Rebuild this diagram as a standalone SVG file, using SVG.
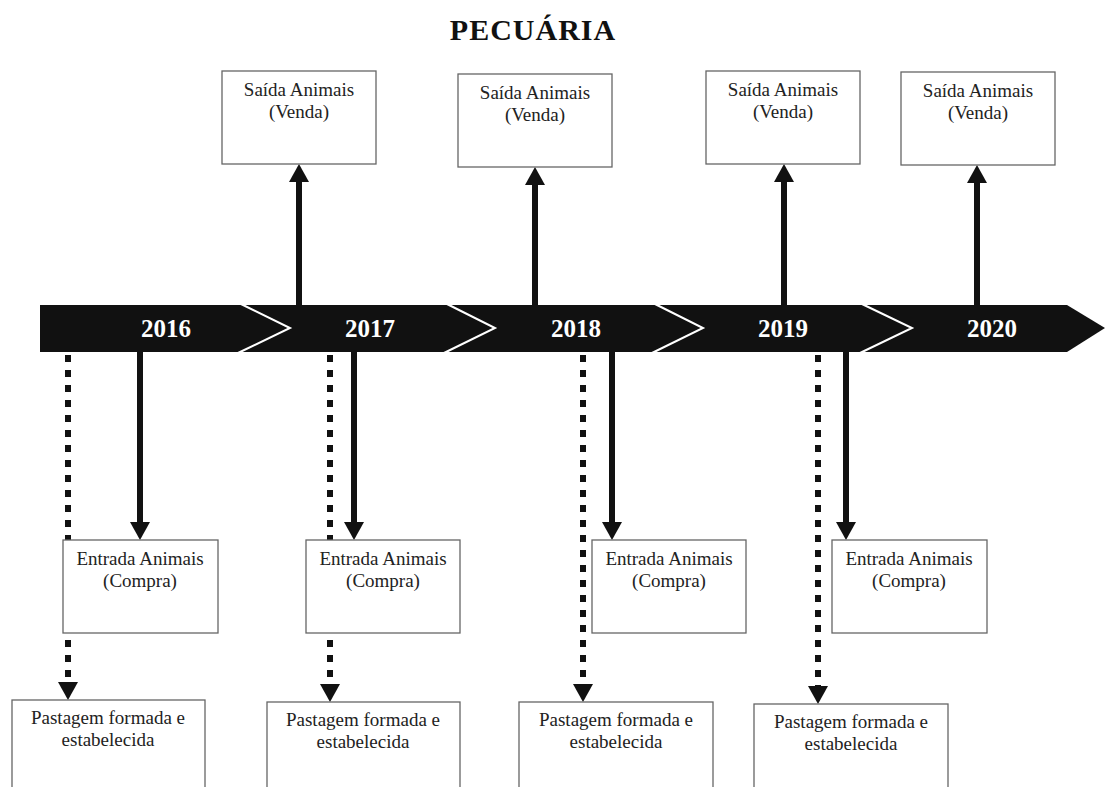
<svg xmlns="http://www.w3.org/2000/svg" width="1105" height="787" viewBox="0 0 1105 787">
<style>
.t{font-family:"Liberation Serif","Times New Roman",serif;font-size:19px;fill:#222;text-anchor:middle}
.yr{font-family:"Liberation Serif","Times New Roman",serif;font-size:25px;font-weight:bold;fill:#fff;text-anchor:middle}
.ttl{font-family:"Liberation Serif","Times New Roman",serif;font-size:30px;font-weight:bold;fill:#111;text-anchor:middle;letter-spacing:1px}
.box{fill:#fff;stroke:#666;stroke-width:1.3}
.sol{stroke:#111;stroke-width:6;fill:none}
.dot{stroke:#111;stroke-width:6;fill:none;stroke-dasharray:7 8}
.head{fill:#111}
.chev{fill:none;stroke:#fff;stroke-width:2}
</style>
<rect width="1105" height="787" fill="#fff"/>
<text class="ttl" x="533" y="40">PECUÁRIA</text>
<g id="timeline">
<polygon points="40,305 1067,305 1105,328 1067,352 40,352" fill="#111"/>
<polyline class="chev" points="241,304 290,328 238,353"/>
<polyline class="chev" points="447,304 495,328 444,353"/>
<polyline class="chev" points="655,304 703,328 652,353"/>
<polyline class="chev" points="862,304 912,328 860,353"/>
<text class="yr" x="166" y="337">2016</text>
<text class="yr" x="370" y="337">2017</text>
<text class="yr" x="576" y="337">2018</text>
<text class="yr" x="783" y="337">2019</text>
<text class="yr" x="992" y="337">2020</text>
</g>
<g id="connectors">
<line class="sol" x1="299" y1="305" x2="299" y2="180"/><polygon class="head" points="299,164 289,182 309,182"/>
<line class="sol" x1="535" y1="305" x2="535" y2="183"/><polygon class="head" points="535,167 525,185 545,185"/>
<line class="sol" x1="784" y1="305" x2="784" y2="180"/><polygon class="head" points="784,164 774,182 794,182"/>
<line class="sol" x1="977" y1="305" x2="977" y2="181"/><polygon class="head" points="977,165 967,183 987,183"/>
<line class="sol" x1="140" y1="352" x2="140" y2="524"/><polygon class="head" points="140,540 130,522 150,522"/>
<line class="sol" x1="354" y1="352" x2="354" y2="524"/><polygon class="head" points="354,540 344,522 364,522"/>
<line class="sol" x1="612" y1="352" x2="612" y2="524"/><polygon class="head" points="612,540 602,522 622,522"/>
<line class="sol" x1="846" y1="352" x2="846" y2="524"/><polygon class="head" points="846,540 836,522 856,522"/>
<line class="dot" x1="68" y1="355" x2="68" y2="684"/><polygon class="head" points="68,700 58,682 78,682"/>
<line class="dot" x1="330" y1="355" x2="330" y2="686"/><polygon class="head" points="330,702 320,684 340,684"/>
<line class="dot" x1="583" y1="355" x2="583" y2="686"/><polygon class="head" points="583,702 573,684 593,684"/>
<line class="dot" x1="818" y1="355" x2="818" y2="688"/><polygon class="head" points="818,704 808,686 828,686"/>
</g>
<g id="venda2016"><rect class="box" x="222" y="71" width="154" height="93"/><text class="t" x="299" y="96">Saída Animais</text><text class="t" x="299" y="118">(Venda)</text></g>
<g id="venda2017"><rect class="box" x="458" y="74" width="154" height="93"/><text class="t" x="535" y="99">Saída Animais</text><text class="t" x="535" y="121">(Venda)</text></g>
<g id="venda2018"><rect class="box" x="706" y="71" width="154" height="93"/><text class="t" x="783" y="96">Saída Animais</text><text class="t" x="783" y="118">(Venda)</text></g>
<g id="venda2019"><rect class="box" x="901" y="72" width="154" height="93"/><text class="t" x="978" y="97">Saída Animais</text><text class="t" x="978" y="119">(Venda)</text></g>
<g id="compra2016"><rect class="box" x="63" y="540" width="155" height="93"/><text class="t" x="140" y="565">Entrada Animais</text><text class="t" x="140" y="587">(Compra)</text></g>
<g id="compra2017"><rect class="box" x="306" y="540" width="154" height="93"/><text class="t" x="383" y="565">Entrada Animais</text><text class="t" x="383" y="587">(Compra)</text></g>
<g id="compra2018"><rect class="box" x="592" y="540" width="154" height="93"/><text class="t" x="669" y="565">Entrada Animais</text><text class="t" x="669" y="587">(Compra)</text></g>
<g id="compra2019"><rect class="box" x="832" y="540" width="155" height="93"/><text class="t" x="909" y="565">Entrada Animais</text><text class="t" x="909" y="587">(Compra)</text></g>
<g id="pastagem2016"><rect class="box" x="12" y="700" width="193" height="100"/><text class="t" x="108" y="724">Pastagem formada e</text><text class="t" x="108" y="746">estabelecida</text></g>
<g id="pastagem2017"><rect class="box" x="267" y="702" width="193" height="100"/><text class="t" x="363" y="726">Pastagem formada e</text><text class="t" x="363" y="748">estabelecida</text></g>
<g id="pastagem2018"><rect class="box" x="519" y="702" width="194" height="100"/><text class="t" x="616" y="726">Pastagem formada e</text><text class="t" x="616" y="748">estabelecida</text></g>
<g id="pastagem2019"><rect class="box" x="754" y="704" width="194" height="100"/><text class="t" x="851" y="728">Pastagem formada e</text><text class="t" x="851" y="750">estabelecida</text></g>
</svg>
